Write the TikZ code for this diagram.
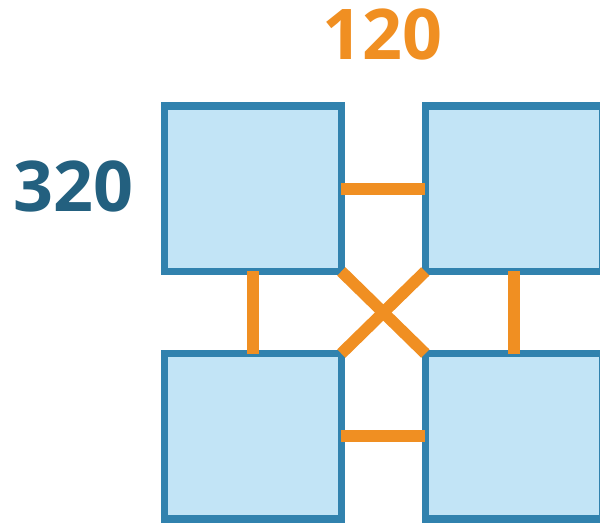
\documentclass[tikz,border=0pt]{standalone}
\usepackage{fontspec}
\setmainfont{Open Sans}
\usepackage{tikz}
\usetikzlibrary{positioning}
\definecolor{BoxBlue}{HTML}{3182AE}
\definecolor{BoxFill}{HTML}{C2E4F6}
\definecolor{LinkOrange}{HTML}{F08F22}
\definecolor{LabelBlue}{HTML}{23607F}

\begin{document}
\begin{tikzpicture}[x=0.75pt, y=-0.75pt,
    cell/.style={draw=BoxBlue, fill=BoxFill, line width=5.5pt,
      minimum width=132.75pt, minimum height=124.1pt,
      inner sep=0pt, outer sep=0pt},
    link/.style={draw=LinkOrange, line width=8.8pt, line cap=butt},
    count/.style={inner sep=0pt, anchor=base,
      font=\fontsize{52.5}{60}\selectfont\bfseries}]
    % Picture frame
    \clip (0,0) rectangle (600,523);

    % Four cells
    \node[cell] (tl) at (252.8,188.7) {};
    \node[cell] (tr) at (513.8,188.7) {};
    \node[cell] (bl) at (252.8,436.3) {};
    \node[cell] (br) at (513.8,436.3) {};

    % Links between cells
    \draw[link] (tl.east) -- (tr.west);
    \draw[link] (bl.east) -- (br.west);
    \draw[link] (tl.south) -- (bl.north);
    \draw[link] (tr.south) -- (br.north);
    \draw[link] (tl.south east) -- (br.north west);
    \draw[link] (tr.south west) -- (bl.north east);

    % Counts
    \node[count, text=LinkOrange] (top) at (382,60) {120};
    \node[count, text=LabelBlue] (side) at (73,211.7) {320};
  \end{tikzpicture}
\end{document}
